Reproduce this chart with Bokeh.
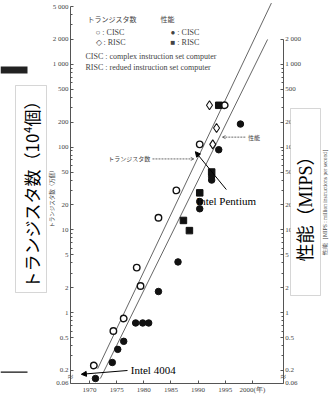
import math
from bokeh.plotting import figure
from bokeh.models import (Range1d, LogAxis, FixedTicker, Label, Arrow, NormalHead,
                          OpenHead, BoxAnnotation)
from bokeh.embed import file_html
from bokeh.resources import INLINE

# ---------------- data ----------------
# transistor count [10^4], CISC (open circles)
tr_cisc_year = [1970.8, 1974.4, 1976.3, 1978.7, 1979.4, 1982.7, 1986.0, 1990.3, 1994.9]
tr_cisc_val = [0.23, 0.6, 0.85, 3.5, 2.1, 14, 30, 108, 320]
# transistor count, RISC (open diamonds)
tr_risc_year = [1992.1, 1992.7, 1993.4]
tr_risc_val = [320, 108, 170]
# performance [MIPS], CISC (filled circles)
perf_cisc_year = [1971.1, 1974.2, 1975.2, 1976.3, 1978.5, 1979.8, 1980.9, 1982.7,
                  1986.3, 1990.3, 1990.3, 1992.5, 1992.5, 1993.8, 1997.8]
perf_cisc_val = [0.16, 0.25, 0.36, 0.45, 0.75, 0.75, 0.75, 1.8,
                 4.1, 22, 18, 44, 40, 93, 190]
# performance, RISC (filled squares)
perf_risc_year = [1987.3, 1988.4, 1990.3, 1992.5, 1993.8]
perf_risc_val = [13, 9.8, 28, 50, 320]
# trend lines
trend_tr_year = [1971.5, 2003.5]
trend_tr_val = [0.21, 5500]
trend_perf_year = [1972.0, 2002.8]
trend_perf_val = [0.16, 2000]

y_ticks = [0.14, 0.2, 0.5, 1, 2, 5, 10, 20, 50, 100, 200, 500, 1000, 2000, 5000]
y_tick_labels = ["0.06", "0.2", "0.5", "1", "2", "5", "10", "20", "50", "100",
                 "200", "500", "1 000", "2 000", "5 000"]
x_ticks = [1970, 1975, 1980, 1985, 1990, 1995, 2000]
x_tick_labels = ["1970", "1975", "1980", "1985", "1990", "1995", "2000(年)"]

X0, X1 = 1966.5, 2005.7     # extent of the drawn axes
Y0, Y1L, Y1R = 0.14, 5000, 2000

SERIF = "Liberation Serif"
JP = "Noto Sans CJK JP"
GRAY = "#444444"
AX = "#555555"

minor = []
for k in range(-1, 4):
    for m in (3, 4, 6, 7, 8, 9):
        v = m * 10 ** k
        if Y0 < v < Y1L:
            minor.append(v)

p = figure(width=329, height=396, x_range=Range1d(1953.61, 2014.2),
           y_range=Range1d(0.097, 5909), y_axis_type="log",
           output_backend="svg", toolbar_location=None,
           min_border_left=0, min_border_right=0, min_border_top=0,
           min_border_bottom=0)
p.outline_line_color = None
p.grid.visible = False
p.background_fill_color = "white"
p.border_fill_color = "white"


def style_axis(ax):
    ax.axis_line_color = AX
    ax.axis_line_width = 1
    ax.major_tick_line_color = AX
    ax.minor_tick_line_color = AX
    ax.major_tick_in = 3
    ax.major_tick_out = 0
    ax.minor_tick_in = 2
    ax.minor_tick_out = 0
    ax.major_label_text_font = SERIF
    ax.major_label_text_font_size = "7px"
    ax.major_label_text_color = GRAY
    ax.major_label_standoff = 2


# left axis
ly = p.yaxis[0]
ly.ticker = FixedTicker(ticks=y_ticks, minor_ticks=minor)
ly.major_label_overrides = dict(zip(y_ticks, y_tick_labels))
ly.bounds = (Y0, Y1L)
ly.fixed_location = X0
style_axis(ly)

# right axis
ry = LogAxis(ticker=FixedTicker(ticks=y_ticks[:-1], minor_ticks=[m for m in minor if m < Y1R]),
             bounds=(Y0, Y1R), fixed_location=X1)
ry.major_label_overrides = dict(zip(y_ticks[:-1], y_tick_labels[:-1]))
style_axis(ry)
p.add_layout(ry, "right")

# bottom axis
bx = p.xaxis[0]
bx.ticker = FixedTicker(ticks=x_ticks)
bx.major_label_overrides = dict(zip(x_ticks, x_tick_labels))
bx.bounds = (X0, X1)
bx.fixed_location = Y0
style_axis(bx)
bx.major_label_standoff = 3

# trend lines
p.line(trend_tr_year, trend_tr_val, line_color=AX, line_width=0.9)
p.line(trend_perf_year, trend_perf_val, line_color=AX, line_width=0.9)

# markers
p.scatter(tr_cisc_year, tr_cisc_val, marker="circle", size=6.5, fill_color="white",
          line_color="#111111", line_width=1.4)
p.scatter(tr_risc_year, tr_risc_val, marker="diamond", size=9, fill_color="white",
          line_color="#111111", line_width=1.1)
p.scatter(perf_cisc_year, perf_cisc_val, marker="circle", size=6.5, fill_color="#111111",
          line_color="#111111")
p.scatter(perf_risc_year, perf_risc_val, marker="square", size=6.5, fill_color="#111111",
          line_color="#111111")

# axis break marks
for xb in (X0, X1):
    p.add_layout(Label(x=xb, y=0.168, text="≈", text_align="center", text_baseline="middle",
                       text_font=SERIF, text_font_size="10px", text_color=GRAY))

# in-plot annotations
p.add_layout(Arrow(end=NormalHead(size=5, fill_color="black", line_color="black"),
                   x_start=1977.0, y_start=0.2, x_end=1968.5, y_end=0.18,
                   line_color="black", line_width=1))
p.add_layout(Label(x=1977.6, y=0.2, text="Intel 4004", text_font=SERIF,
                   text_font_size="11px", text_color="black", text_baseline="middle"))
p.add_layout(Arrow(end=NormalHead(size=5, fill_color="black", line_color="black"),
                   x_start=1995.2, y_start=30.7, x_end=1989.5, y_end=88,
                   line_color="black", line_width=1))
p.add_layout(Label(x=1989.7, y=22.4, text="Intel Pentium", text_font=SERIF,
                   text_font_size="11px", text_color="black", text_baseline="middle"))

p.add_layout(Label(x=1981.2, y=72, text="トランジスタ数", text_font=JP,
                   text_font_size="6px", text_color=GRAY, text_align="right",
                   text_baseline="middle"))
p.add_layout(Arrow(end=OpenHead(size=3, line_color=GRAY, line_width=0.8),
                   x_start=1981.6, y_start=72, x_end=1989.2, y_end=72,
                   line_color=GRAY, line_width=0.8, line_dash="2 1"))
p.add_layout(Label(x=1999.2, y=132, text="性能", text_font=JP,
                   text_font_size="6px", text_color=GRAY, text_baseline="middle"))
p.add_layout(Arrow(end=OpenHead(size=3, line_color=GRAY, line_width=0.8),
                   x_start=1998.7, y_start=132, x_end=1994.5, y_end=132,
                   line_color=GRAY, line_width=0.8, line_dash="2 1"))


# legend block (canvas units)
def clabel(x, y, text, font, size, color=GRAY, angle=0.0, align="left", **kw):
    return Label(x=x, y=y, x_units="canvas", y_units="canvas", text=text,
                 text_font=font, text_font_size=size, text_color=color,
                 text_align=align, text_baseline="middle", angle=angle, **kw)


p.add_layout(clabel(87, 18, "トランジスタ数", JP, "7px"))
p.add_layout(clabel(160, 18, "性能", JP, "7px"))
p.add_layout(clabel(95, 32, "○ : CISC", SERIF, "8px"))
p.add_layout(clabel(170, 32, "● : CISC", SERIF, "8px"))
p.add_layout(clabel(95, 42, "◇ : RISC", SERIF, "8px"))
p.add_layout(clabel(170, 42, "■ : RISC", SERIF, "8px"))
p.add_layout(clabel(85, 56, "CISC : complex instruction set computer", SERIF, "8px"))
p.add_layout(clabel(85, 67, "RISC : redued instruction set computer", SERIF, "8px"))

# small inner axis titles
p.add_layout(clabel(51, 197, "トランジスタ数（万個）", JP, "5.5px", angle=math.pi / 2,
                    align="center"))
p.add_layout(clabel(324, 200, "性能［MIPS : million instructions per second］", SERIF,
                    "5.5px", angle=math.pi / 2, align="center"))


# overlaid boxes
def cbox(l, r, t, b, fill, line):
    return BoxAnnotation(left=l, right=r, top=t, bottom=b, left_units="canvas",
                         right_units="canvas", top_units="canvas", bottom_units="canvas",
                         fill_color=fill, fill_alpha=1.0, line_color=line,
                         line_width=1, level="overlay")


p.add_layout(cbox(15, 46, 85, 292, "white", "#777777"))
p.add_layout(cbox(290, 320, 108, 295, "white", "#777777"))
p.add_layout(cbox(0, 27, 66, 73, "#222222", None))
p.add_layout(cbox(0, 27, 371, 372.3, "#111111", None))

big_l = clabel(30.5, 190, "トランジスタ数（10⁴個）", JP, "17px", color="black",
               angle=math.pi / 2, align="center")
big_l.level = "overlay"
p.add_layout(big_l)
big_r = clabel(305, 204, "性能（MIPS）", "Liberation Serif, Noto Sans CJK JP", "18px",
               color="black", angle=math.pi / 2, align="center")
big_r.level = "overlay"
p.add_layout(big_r)

open("out.html", "w").write(file_html(p, INLINE))
